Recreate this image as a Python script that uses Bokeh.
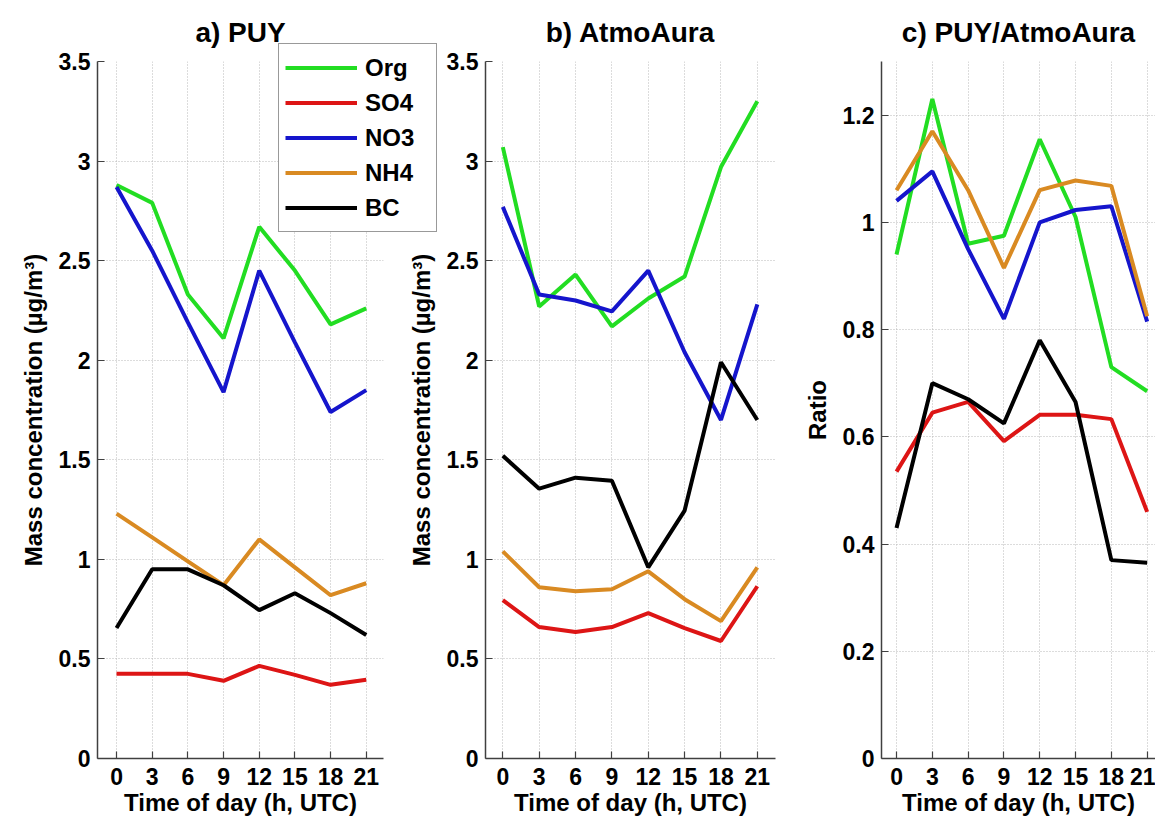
from bokeh.plotting import figure
from bokeh.layouts import row
from bokeh.models import Legend, LegendItem, Range1d, FixedTicker
from bokeh.embed import file_html
from bokeh.resources import INLINE

hours = [0, 3, 6, 9, 12, 15, 18, 21]
species = ["Org", "SO4", "NO3", "NH4", "BC"]
colors = ["#22dd22", "#dd1515", "#1515cc", "#d98a22", "#000000"]

# a) PUY  (µg/m3)
puy_org = [2.88, 2.79, 2.33, 2.11, 2.67, 2.45, 2.18, 2.26]
puy_so4 = [0.425, 0.425, 0.425, 0.39, 0.465, 0.42, 0.37, 0.395]
puy_no3 = [2.87, 2.55, 2.19, 1.84, 2.45, 2.09, 1.74, 1.85]
puy_nh4 = [1.23, 1.11, 0.99, 0.87, 1.10, 0.96, 0.82, 0.88]
puy_bc = [0.655, 0.95, 0.95, 0.87, 0.745, 0.83, 0.73, 0.62]

# b) AtmoAura (µg/m3)
atmo_org = [3.07, 2.27, 2.43, 2.17, 2.31, 2.42, 2.97, 3.30]
atmo_so4 = [0.795, 0.66, 0.635, 0.66, 0.73, 0.655, 0.59, 0.865]
atmo_no3 = [2.77, 2.33, 2.30, 2.245, 2.45, 2.04, 1.70, 2.28]
atmo_nh4 = [1.04, 0.86, 0.84, 0.85, 0.94, 0.80, 0.69, 0.96]
atmo_bc = [1.52, 1.355, 1.41, 1.395, 0.96, 1.245, 1.99, 1.70]

# c) PUY/AtmoAura ratio
ratio_org = [0.94, 1.23, 0.96, 0.975, 1.155, 1.01, 0.73, 0.685]
ratio_so4 = [0.535, 0.645, 0.665, 0.592, 0.641, 0.641, 0.633, 0.46]
ratio_no3 = [1.04, 1.095, 0.95, 0.82, 1.0, 1.023, 1.03, 0.815]
ratio_nh4 = [1.06, 1.17, 1.06, 0.915, 1.06, 1.078, 1.068, 0.825]
ratio_bc = [0.43, 0.70, 0.67, 0.625, 0.78, 0.665, 0.37, 0.365]

conc_ticks = [0, 0.5, 1, 1.5, 2, 2.5, 3, 3.5]
conc_tick_labels = ["0", "0.5", "1", "1.5", "2", "2.5", "3", "3.5"]
ratio_ticks = [0, 0.2, 0.4, 0.6, 0.8, 1.0, 1.2]
ratio_tick_labels = ["0", "0.2", "0.4", "0.6", "0.8", "1", "1.2"]
hour_labels = ["0", "3", "6", "9", "12", "15", "18", "21"]

titles = ["a) PUY", "b) AtmoAura", "c) PUY/AtmoAura"]
xlabel = "Time of day (h, UTC)"
conc_label = "Mass concentration (µg/m³)"
ratio_label = "Ratio"

FONT = "Liberation Sans"


def make_fig(title, series, ylabel, yend, yticks, ylabels, xr, fw, bl, br, margin=None):
    kw = {}
    if margin is not None:
        kw["margin"] = margin
    p = figure(
        frame_width=fw, frame_height=697,
        min_border_left=bl, min_border_right=br,
        min_border_top=61, min_border_bottom=62,
        x_range=Range1d(*xr), y_range=Range1d(0, yend),
        output_backend="svg", toolbar_location=None,
        title=title, **kw,
    )
    p.border_fill_color = None
    p.background_fill_color = None
    p.outline_line_color = None
    p.title.text_font = FONT
    p.title.text_font_size = "28px"
    p.title.text_font_style = "bold"
    p.title.text_color = "black"
    p.title.align = "center"
    p.title.standoff = 27

    renderers = []
    for vals, c in zip(series, colors):
        r = p.line(hours, vals, line_color=c, line_width=4)
        renderers.append(r)

    for ax in (p.xaxis[0], p.yaxis[0]):
        ax.axis_line_color = "#404040"
        ax.axis_line_width = 1.5
        ax.major_tick_line_color = "#404040"
        ax.major_tick_line_width = 1.2
        ax.major_tick_in = 7
        ax.major_tick_out = 0
        ax.minor_tick_line_color = None
        ax.major_label_text_font = FONT
        ax.major_label_text_font_size = "23px"
        ax.major_label_text_font_style = "bold"
        ax.major_label_text_color = "black"
        ax.axis_label_text_font = FONT
        ax.axis_label_text_font_size = "24px"
        ax.axis_label_text_font_style = "bold"
        ax.axis_label_text_color = "black"

    p.xaxis.ticker = FixedTicker(ticks=hours)
    p.xaxis.major_label_overrides = {h: s for h, s in zip(hours, hour_labels)}
    p.xaxis.axis_label = xlabel
    p.xaxis.major_label_standoff = 9
    p.xaxis.axis_label_standoff = 1

    p.yaxis.ticker = FixedTicker(ticks=yticks)
    p.yaxis.major_label_overrides = {t: s for t, s in zip(yticks, ylabels)}
    p.yaxis.axis_label = ylabel
    p.yaxis.major_label_standoff = 7
    p.yaxis.axis_label_standoff = 9

    for g in (p.xgrid[0], p.ygrid[0]):
        g.grid_line_color = "#b8b8b8"
        g.grid_line_dash = "1 2"
        g.grid_line_width = 1
    return p, renderers


# panel a: frame 97..383; its wide right border holds the legend panel
RIGHT_A = 700
pa, ra = make_fig(titles[0], [puy_org, puy_so4, puy_no3, puy_nh4, puy_bc],
                  conc_label, 3.5, conc_ticks, conc_tick_labels,
                  (-1.6, 22.45), 286, 97, RIGHT_A)
# panel b: canvas starts at x=400 (overlapping panel a's transparent right border)
pb, rb = make_fig(titles[1], [atmo_org, atmo_so4, atmo_no3, atmo_nh4, atmo_bc],
                  conc_label, 3.5, conc_ticks, conc_tick_labels,
                  (-1.43, 22.5), 290, 85, 5, margin=(0, 0, 0, 400 - (383 + RIGHT_A)))
# panel c: frame 881..1155
pc, rc = make_fig(titles[2], [ratio_org, ratio_so4, ratio_no3, ratio_nh4, ratio_bc],
                  ratio_label, 1.3, ratio_ticks, ratio_tick_labels,
                  (-1.26, 21.7), 274, 101, 0)

legend = Legend(
    items=[LegendItem(label=s, renderers=[r]) for s, r in zip(species, ra)],
    location=(-105, 526),
    glyph_width=72, glyph_height=35, label_height=35, label_width=65,
    label_standoff=8, spacing=0, padding=6, margin=0,
    label_text_font=FONT, label_text_font_size="24px",
    label_text_font_style="bold", label_text_color="black",
    border_line_color="#333333", border_line_width=1.2,
    background_fill_color="white", background_fill_alpha=1.0,
)
pa.add_layout(legend, "right")

layout = row(pa, pb, pc)

with open("out.html", "w") as f:
    f.write(file_html(layout, INLINE))
